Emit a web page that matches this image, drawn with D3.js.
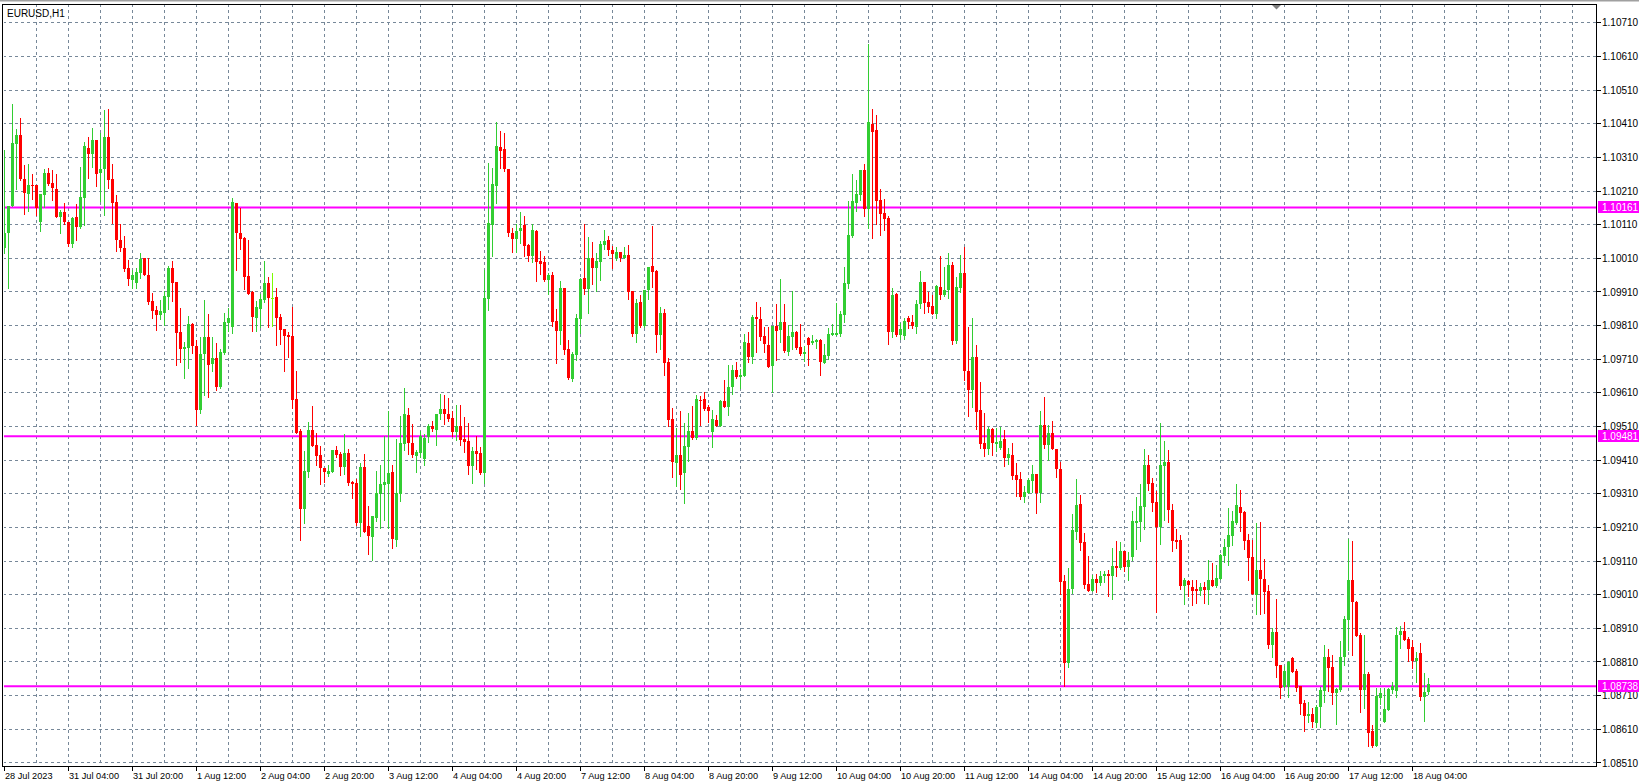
<!DOCTYPE html>
<html><head><meta charset="utf-8">
<script src="https://cdn.jsdelivr.net/npm/d3@7"></script>
<style>body{margin:0;background:#fff;}svg{display:block}</style>
</head><body>
<svg id="chart" width="1639" height="784"></svg>
<script>
const symbolTitle = "EURUSD,H1";
const timeLabels = ["28 Jul 2023","31 Jul 04:00","31 Jul 20:00","1 Aug 12:00","2 Aug 04:00","2 Aug 20:00","3 Aug 12:00","4 Aug 04:00","4 Aug 20:00","7 Aug 12:00","8 Aug 04:00","8 Aug 20:00","9 Aug 12:00","10 Aug 04:00","10 Aug 20:00","11 Aug 12:00","14 Aug 04:00","14 Aug 20:00","15 Aug 12:00","16 Aug 04:00","16 Aug 20:00","17 Aug 12:00","18 Aug 04:00"];
const priceTicks = [1.10710,1.10610,1.10510,1.10410,1.10310,1.10210,1.10110,1.10010,1.09910,1.09810,1.09710,1.09610,1.09510,1.09410,1.09310,1.09210,1.09110,1.09010,1.08910,1.08810,1.08710,1.08610,1.08510];
const levels = [1.10161, 1.09481, 1.08738];

const open = [1.10041,1.10086,1.10165,1.10349,1.10377,1.10246,1.10202,1.10229,1.10229,1.10117,
1.10197,1.10264,1.10235,1.10217,1.10134,1.10148,1.10119,1.10051,1.10132,1.10103,
1.10188,1.10339,1.10319,1.10362,1.10264,1.10274,1.10371,1.10246,1.10178,1.10065,
1.10041,1.09982,1.09944,1.09937,1.09967,1.10010,1.09961,1.09884,1.09855,1.09842,
1.09848,1.09896,1.09982,1.09940,1.09792,1.09739,1.09744,1.09815,1.09750,1.09558,
1.09724,1.09775,1.09695,1.09713,1.09626,1.09727,1.09817,1.09806,1.10173,1.10085,
1.10069,1.09956,1.09911,1.09832,1.09858,1.09885,1.09936,1.09893,1.09894,1.09834,
1.09799,1.09781,1.09778,1.09591,1.09496,1.09264,1.09374,1.09499,1.09454,1.09424,
1.09386,1.09368,1.09374,1.09439,1.09427,1.09389,1.09430,1.09344,1.09341,1.09224,
1.09389,1.09214,1.09181,1.09237,1.09308,1.09335,1.09338,1.09374,1.09172,1.09308,
1.09457,1.09543,1.09460,1.09421,1.09431,1.09413,1.09478,1.09512,1.09501,1.09546,
1.09561,1.09548,1.09534,1.09493,1.09512,1.09472,1.09468,1.09392,1.09438,1.09430,
1.09372,1.09889,1.10109,1.10225,1.10340,1.10334,1.10276,1.10084,1.10067,1.10090,
1.10108,1.10049,1.10016,1.10090,1.10001,1.09998,1.09945,1.09959,1.09823,1.09793,
1.09921,1.09739,1.09651,1.09723,1.09830,1.09950,1.09919,1.10010,1.09980,1.09998,
1.10049,1.10063,1.10034,1.10010,1.10028,1.10010,1.10019,1.09912,1.09784,1.09879,
1.09808,1.09915,1.09986,1.09972,1.09781,1.09847,1.09701,1.09532,1.09401,1.09425,
1.09371,1.09448,1.09496,1.09475,1.09588,1.09591,1.09567,1.09493,1.09529,1.09511,
1.09585,1.09567,1.09627,1.09677,1.09656,1.09659,1.09758,1.09716,1.09835,1.09829,
1.09778,1.09752,1.09689,1.09808,1.09796,1.09820,1.09731,1.09775,1.09790,1.09746,
1.09725,1.09772,1.09758,1.09761,1.09766,1.09698,1.09720,1.09781,1.09781,1.09784,
1.09841,1.09933,1.10075,1.10174,1.10197,1.10272,1.10156,1.10408,1.10391,1.10182,
1.10144,1.10129,1.09790,1.09903,1.09781,1.09778,1.09832,1.09820,1.09805,1.09873,
1.09939,1.09879,1.09867,1.09844,1.09924,1.09900,1.09915,1.09989,1.09763,1.09921,
1.09965,1.09675,1.09619,1.09716,1.09559,1.09461,1.09442,1.09502,1.09458,1.09446,
1.09473,1.09416,1.09425,1.09366,1.09354,1.09299,1.09312,1.09347,1.09368,1.09311,
1.09513,1.09454,1.09490,1.09442,1.09383,1.09050,1.08806,1.09026,1.09195,1.09279,
1.09166,1.09041,1.09020,1.09056,1.09044,1.09065,1.09073,1.09065,1.09094,1.09088,
1.09139,1.09091,1.09121,1.09222,1.09225,1.09270,1.09395,1.09341,1.09287,1.09210,
1.09392,1.09403,1.09262,1.09172,1.09172,1.09035,1.09050,1.09032,1.09026,1.09020,
1.09032,1.09023,1.09053,1.09035,1.09056,1.09124,1.09151,1.09183,1.09222,1.09272,
1.09257,1.09174,1.09123,1.09010,1.09082,1.09058,1.09022,1.08859,1.08900,1.08802,
1.08737,1.08737,1.08823,1.08784,1.08740,1.08689,1.08648,1.08654,1.08630,1.08677,
1.08725,1.08826,1.08796,1.08719,1.08728,1.08826,1.08936,1.09055,1.08987,1.08889,
1.08728,1.08773,1.08606,1.08559,1.08704,1.08633,1.08666,1.08728,1.08725,1.08889,
1.08903,1.08877,1.08856,1.08814,1.08838,1.08707,1.08722];

const high = [1.10331,1.10165,1.10469,1.10395,1.10428,1.10288,1.10291,1.10261,1.10229,1.10202,
1.10276,1.10279,1.10273,1.10261,1.10154,1.10174,1.10119,1.10134,1.10172,1.10282,
1.10356,1.10370,1.10398,1.10362,1.10383,1.10452,1.10455,1.10291,1.10197,1.10111,
1.10075,1.10004,1.09975,1.09981,1.10025,1.10012,1.10012,1.09907,1.09869,1.09887,
1.09912,1.09987,1.10001,1.09940,1.09863,1.09762,1.09839,1.09818,1.09766,1.09777,
1.09887,1.09843,1.09775,1.09757,1.09739,1.09846,1.09861,1.10188,1.10173,1.10159,
1.10072,1.10063,1.09914,1.09883,1.09903,1.10001,1.09953,1.09965,1.09921,1.09843,
1.09799,1.09792,1.09864,1.09674,1.09502,1.09436,1.09522,1.09570,1.09490,1.09451,
1.09388,1.09395,1.09439,1.09451,1.09433,1.09487,1.09442,1.09347,1.09353,1.09400,
1.09427,1.09273,1.09243,1.09377,1.09395,1.09481,1.09555,1.09395,1.09472,1.09540,
1.09623,1.09564,1.09516,1.09440,1.09498,1.09488,1.09517,1.09527,1.09548,1.09607,
1.09604,1.09594,1.09557,1.09575,1.09575,1.09537,1.09519,1.09450,1.09483,1.09450,
1.09976,1.10292,1.10278,1.10414,1.10387,1.10382,1.10276,1.10101,1.10111,1.10147,
1.10135,1.10051,1.10111,1.10093,1.10031,1.10016,1.09966,1.09968,1.09858,1.09942,
1.09921,1.09766,1.09730,1.09843,1.09950,1.10111,1.10072,1.10058,1.10025,1.10060,
1.10093,1.10075,1.10048,1.10043,1.10028,1.10043,1.10049,1.09912,1.09888,1.09900,
1.09915,1.09983,1.10105,1.09975,1.09865,1.09859,1.09713,1.09564,1.09505,1.09555,
1.09520,1.09549,1.09570,1.09603,1.09600,1.09612,1.09573,1.09558,1.09543,1.09588,
1.09648,1.09692,1.09692,1.09701,1.09680,1.09784,1.09790,1.09841,1.09879,1.09865,
1.09805,1.09805,1.09808,1.09873,1.09948,1.09873,1.09811,1.09912,1.09793,1.09814,
1.09749,1.09775,1.09781,1.09769,1.09769,1.09755,1.09802,1.09814,1.09876,1.09852,
1.09983,1.10180,1.10260,1.10242,1.10272,1.10290,1.10646,1.10453,1.10435,1.10215,
1.10185,1.10135,1.09921,1.09906,1.09817,1.09832,1.09838,1.09841,1.09885,1.09971,
1.09939,1.09909,1.09900,1.09930,1.10016,1.09983,1.10025,1.09998,1.09954,1.10019,
1.10043,1.09805,1.09832,1.09751,1.09642,1.09549,1.09508,1.09506,1.09506,1.09509,
1.09500,1.09445,1.09461,1.09402,1.09375,1.09333,1.09357,1.09397,1.09368,1.09555,
1.09597,1.09513,1.09525,1.09442,1.09403,1.09070,1.09088,1.09249,1.09353,1.09305,
1.09192,1.09124,1.09070,1.09073,1.09079,1.09079,1.09082,1.09148,1.09169,1.09166,
1.09139,1.09136,1.09258,1.09299,1.09338,1.09442,1.09424,1.09356,1.09317,1.09519,
1.09466,1.09439,1.09279,1.09204,1.09186,1.09059,1.09053,1.09053,1.09053,1.09044,
1.09047,1.09112,1.09103,1.09097,1.09130,1.09175,1.09267,1.09258,1.09338,1.09320,
1.09260,1.09189,1.09174,1.09224,1.09227,1.09117,1.09040,1.08912,1.08996,1.08802,
1.08799,1.08814,1.08826,1.08790,1.08740,1.08698,1.08692,1.08674,1.08683,1.08737,
1.08859,1.08850,1.08832,1.08734,1.08871,1.08948,1.09177,1.09171,1.08990,1.08897,
1.08889,1.08779,1.08624,1.08734,1.08734,1.08734,1.08734,1.08749,1.08915,1.08918,
1.08930,1.08883,1.08874,1.08841,1.08865,1.08776,1.08761];

const low = [1.10026,1.09922,1.10165,1.10215,1.10244,1.10142,1.10152,1.10185,1.10140,1.10090,
1.10163,1.10229,1.10184,1.10134,1.10084,1.10113,1.10047,1.10044,1.10063,1.10101,
1.10108,1.10250,1.10282,1.10224,1.10180,1.10140,1.10218,1.10116,1.10033,1.10033,
1.09971,1.09932,1.09922,1.09922,1.09952,1.09959,1.09875,1.09833,1.09798,1.09831,
1.09813,1.09858,1.09883,1.09694,1.09702,1.09653,1.09685,1.09729,1.09514,1.09551,
1.09603,1.09597,1.09675,1.09618,1.09623,1.09725,1.09794,1.09788,1.09975,1.10038,
1.09919,1.09903,1.09794,1.09794,1.09807,1.09879,1.09807,1.09810,1.09752,1.09755,
1.09675,1.09716,1.09564,1.09490,1.09172,1.09224,1.09359,1.09451,1.09397,1.09338,
1.09344,1.09362,1.09374,1.09418,1.09365,1.09368,1.09335,1.09296,1.09217,1.09184,
1.09196,1.09130,1.09113,1.09230,1.09209,1.09231,1.09209,1.09149,1.09155,1.09290,
1.09439,1.09427,1.09418,1.09374,1.09418,1.09396,1.09463,1.09496,1.09455,1.09532,
1.09517,1.09527,1.09483,1.09470,1.09455,1.09433,1.09369,1.09342,1.09384,1.09369,
1.09342,1.09856,1.10016,1.10174,1.10278,1.10269,1.10075,1.10028,1.10028,1.10055,
1.10018,1.10001,1.09998,1.09942,1.09962,1.09942,1.09904,1.09810,1.09699,1.09754,
1.09726,1.09651,1.09645,1.09708,1.09788,1.09904,1.09846,1.09934,1.09912,1.09946,
1.10038,1.10020,1.09980,1.10005,1.10002,1.10010,1.09888,1.09779,1.09761,1.09805,
1.09805,1.09888,1.09924,1.09731,1.09740,1.09662,1.09511,1.09359,1.09333,1.09324,
1.09283,1.09407,1.09472,1.09472,1.09514,1.09558,1.09523,1.09448,1.09511,1.09511,
1.09567,1.09543,1.09606,1.09653,1.09624,1.09659,1.09701,1.09698,1.09731,1.09766,
1.09731,1.09686,1.09612,1.09707,1.09761,1.09731,1.09722,1.09740,1.09740,1.09722,
1.09704,1.09692,1.09755,1.09743,1.09662,1.09698,1.09710,1.09781,1.09781,1.09778,
1.09820,1.09921,1.10072,1.10151,1.10182,1.10135,1.10099,1.10070,1.10111,1.10078,
1.10093,1.09754,1.09775,1.09778,1.09769,1.09769,1.09802,1.09802,1.09787,1.09861,
1.09847,1.09850,1.09844,1.09832,1.09888,1.09897,1.09891,1.09754,1.09757,1.09909,
1.09648,1.09541,1.09568,1.09503,1.09446,1.09422,1.09428,1.09425,1.09437,1.09443,
1.09393,1.09399,1.09354,1.09304,1.09293,1.09286,1.09312,1.09314,1.09252,1.09287,
1.09445,1.09409,1.09442,1.09359,1.09011,1.08740,1.08794,1.09014,1.09177,1.09142,
1.09029,1.09020,1.09020,1.09017,1.09038,1.09047,1.09005,1.08996,1.09065,1.09085,
1.09079,1.09053,1.09112,1.09145,1.09169,1.09204,1.09320,1.09258,1.08960,1.09160,
1.09231,1.09225,1.09139,1.09148,1.09026,1.08981,1.09005,1.08978,1.08984,1.09008,
1.08984,1.08981,1.09035,1.09032,1.09056,1.09106,1.09097,1.09157,1.09219,1.09198,
1.09147,1.09055,1.09013,1.08954,1.08954,1.08957,1.08853,1.08826,1.08764,1.08704,
1.08737,1.08707,1.08781,1.08725,1.08654,1.08606,1.08633,1.08618,1.08618,1.08618,
1.08692,1.08725,1.08686,1.08627,1.08725,1.08802,1.08847,1.08832,1.08886,1.08660,
1.08674,1.08561,1.08556,1.08559,1.08686,1.08633,1.08666,1.08719,1.08707,1.08853,
1.08874,1.08814,1.08793,1.08749,1.08698,1.08636,1.08716];

const close = [1.10086,1.10165,1.10353,1.10377,1.10246,1.10205,1.10229,1.10227,1.10158,1.10200,
1.10264,1.10232,1.10218,1.10134,1.10148,1.10117,1.10051,1.10131,1.10103,1.10193,
1.10345,1.10319,1.10362,1.10262,1.10276,1.10371,1.10244,1.10175,1.10063,1.10041,
1.09979,1.09947,1.09961,1.09969,1.10007,1.09959,1.09881,1.09852,1.09842,1.09852,
1.09899,1.09982,1.09937,1.09789,1.09739,1.09747,1.09815,1.09748,1.09558,1.09724,
1.09777,1.09693,1.09713,1.09626,1.09730,1.09820,1.09832,1.10176,1.10085,1.10067,
1.09953,1.09905,1.09834,1.09864,1.09888,1.09936,1.09891,1.09893,1.09832,1.09797,
1.09778,1.09775,1.09588,1.09490,1.09264,1.09377,1.09499,1.09451,1.09421,1.09386,
1.09374,1.09377,1.09439,1.09424,1.09389,1.09430,1.09341,1.09338,1.09222,1.09389,
1.09197,1.09184,1.09243,1.09311,1.09338,1.09344,1.09371,1.09175,1.09311,1.09460,
1.09546,1.09460,1.09424,1.09433,1.09483,1.09475,1.09512,1.09503,1.09548,1.09561,
1.09547,1.09532,1.09493,1.09512,1.09470,1.09463,1.09392,1.09438,1.09428,1.09372,
1.09891,1.10114,1.10230,1.10343,1.10328,1.10274,1.10085,1.10067,1.10090,1.10099,
1.10046,1.10016,1.10093,1.09998,1.09992,1.09945,1.09959,1.09820,1.09793,1.09921,
1.09737,1.09653,1.09725,1.09832,1.09948,1.09919,1.10010,1.09980,1.10001,1.10052,
1.10060,1.10034,1.10022,1.10028,1.10010,1.10020,1.09909,1.09784,1.09876,1.09808,
1.09915,1.09983,1.09969,1.09781,1.09847,1.09698,1.09529,1.09404,1.09425,1.09366,
1.09451,1.09496,1.09477,1.09591,1.09585,1.09561,1.09555,1.09532,1.09511,1.09585,
1.09567,1.09627,1.09677,1.09656,1.09662,1.09761,1.09716,1.09835,1.09829,1.09775,
1.09755,1.09688,1.09808,1.09793,1.09820,1.09734,1.09778,1.09790,1.09743,1.09725,
1.09731,1.09752,1.09763,1.09766,1.09701,1.09722,1.09784,1.09787,1.09787,1.09844,
1.09936,1.10078,1.10180,1.10200,1.10272,1.10156,1.10414,1.10385,1.10180,1.10141,
1.10126,1.09790,1.09900,1.09781,1.09799,1.09823,1.09820,1.09808,1.09873,1.09939,
1.09876,1.09864,1.09844,1.09927,1.09900,1.09915,1.09989,1.09763,1.09924,1.09965,
1.09675,1.09619,1.09716,1.09553,1.09458,1.09442,1.09502,1.09461,1.09464,1.09467,
1.09416,1.09428,1.09363,1.09351,1.09299,1.09315,1.09351,1.09368,1.09311,1.09513,
1.09454,1.09490,1.09442,1.09383,1.09047,1.08806,1.09026,1.09201,1.09276,1.09163,
1.09038,1.09020,1.09056,1.09044,1.09067,1.09073,1.09065,1.09094,1.09088,1.09139,
1.09091,1.09112,1.09228,1.09228,1.09273,1.09395,1.09338,1.09282,1.09210,1.09395,
1.09403,1.09262,1.09169,1.09166,1.09035,1.09053,1.09038,1.09020,1.09020,1.09032,
1.09023,1.09053,1.09035,1.09059,1.09127,1.09151,1.09186,1.09228,1.09276,1.09254,
1.09171,1.09120,1.09013,1.09082,1.09058,1.09019,1.08859,1.08900,1.08799,1.08734,
1.08784,1.08810,1.08781,1.08734,1.08686,1.08648,1.08654,1.08633,1.08677,1.08728,
1.08826,1.08793,1.08719,1.08731,1.08826,1.08939,1.09055,1.08987,1.08886,1.08728,
1.08773,1.08600,1.08559,1.08710,1.08719,1.08671,1.08731,1.08740,1.08889,1.08903,
1.08874,1.08850,1.08814,1.08823,1.08707,1.08722,1.08746];

const bars = open.map((o, i) => ({i, o, h: high[i], l: low[i], c: close[i]}));

const W = 1639, H = 784;
const P = {left: 3, top: 4, right: 1596, bottom: 766};
const x = d3.scaleLinear().domain([-1, 398]).range([0.3, 1596.3]);
const y = d3.scaleLinear().domain([1.08510, 1.10710]).range([762.9, 22.8]);

const svg = d3.select("#chart");
const font = "'Liberation Sans', Arial, sans-serif";
svg.append("rect").attr("width", W).attr("height", H).attr("fill", "#fff");
svg.append("rect").attr("x", 0).attr("y", 0).attr("width", W).attr("height", 1.5).attr("fill", "#a0a0a0");

const defs = svg.append("defs");
defs.append("clipPath").attr("id", "plotClip").append("rect")
  .attr("x", P.left + 1).attr("y", P.top + 1)
  .attr("width", P.right - P.left - 1).attr("height", P.bottom - P.top - 1);

const plot = svg.append("g").attr("clip-path", "url(#plotClip)");
const gridColor = "#778899";

// horizontal grid
plot.append("g").selectAll("line").data(priceTicks).join("line")
  .attr("x1", P.left).attr("x2", P.right)
  .attr("y1", d => Math.floor(y(d)) + 0.5).attr("y2", d => Math.floor(y(d)) + 0.5)
  .attr("stroke", gridColor).attr("stroke-width", 1).attr("stroke-dasharray", "3,3");

// vertical grid every 8 bars
const vGrid = d3.range(8, 398, 8);
plot.append("g").selectAll("line").data(vGrid).join("line")
  .attr("x1", d => Math.floor(x(d)) + 0.5).attr("x2", d => Math.floor(x(d)) + 0.5)
  .attr("y1", P.top).attr("y2", P.bottom)
  .attr("stroke", gridColor).attr("stroke-width", 1).attr("stroke-dasharray", "3,3");

// horizontal level lines
plot.append("g").selectAll("line").data(levels).join("line")
  .attr("x1", P.left).attr("x2", P.right)
  .attr("y1", d => y(d)).attr("y2", d => y(d))
  .attr("stroke", "#ff00ff").attr("stroke-width", 2);

// candles
const bull = "#32cd32", bear = "#ff0000", doji = "#7cfc00";
const col = d => d.c > d.o ? bull : (d.c < d.o ? bear : doji);
const cg = plot.append("g");
cg.selectAll("rect.wick").data(bars).join("rect").attr("class", "wick")
  .attr("x", d => Math.floor(x(d.i)))
  .attr("width", 1)
  .attr("y", d => Math.round(y(d.h)))
  .attr("height", d => Math.max(1, Math.round(y(d.l)) - Math.round(y(d.h)) + 1))
  .attr("fill", col);
cg.selectAll("rect.body").data(bars).join("rect").attr("class", "body")
  .attr("x", d => Math.floor(x(d.i)) - 1)
  .attr("width", 3)
  .attr("y", d => Math.round(y(Math.max(d.o, d.c))))
  .attr("height", d => Math.max(1, Math.round(y(Math.min(d.o, d.c))) - Math.round(y(Math.max(d.o, d.c)))))
  .attr("fill", col);

// frame
svg.append("rect").attr("x", P.left - 0.5).attr("y", P.top + 0.5)
  .attr("width", P.right - P.left + 1).attr("height", P.bottom - P.top)
  .attr("fill", "none").attr("stroke", "#000").attr("stroke-width", 1);

// chart shift marker
svg.append("path").attr("d", d3.line()([[1272, 5], [1281, 5], [1276.5, 9.5]]) + "Z").attr("fill", "#808080");

// title
svg.append("text").attr("x", 7).attr("y", 16.5).text(symbolTitle)
  .attr("font-family", font).attr("font-size", 10).attr("fill", "#000");

// price axis
const pa = svg.append("g");
pa.selectAll("line").data(priceTicks).join("line")
  .attr("x1", P.right + 1).attr("x2", P.right + 5)
  .attr("y1", d => Math.floor(y(d)) + 0.5).attr("y2", d => Math.floor(y(d)) + 0.5)
  .attr("stroke", "#000");
pa.selectAll("text").data(priceTicks).join("text")
  .attr("x", P.right + 6).attr("y", d => y(d) + 3.6)
  .text(d => d.toFixed(5))
  .attr("font-family", font).attr("font-size", 10).attr("fill", "#000");

// level labels
const lg = svg.append("g").selectAll("g").data(levels).join("g");
lg.append("rect").attr("x", P.right + 2).attr("y", d => Math.round(y(d)) - 6)
  .attr("width", W - P.right - 2).attr("height", 12).attr("fill", "#ff00ff");
lg.append("text").attr("x", P.right + 6).attr("y", d => Math.round(y(d)) + 3.6)
  .text(d => d.toFixed(5))
  .attr("font-family", font).attr("font-size", 10).attr("fill", "#fff");

// time axis
const ta = svg.append("g");
const tIdx = timeLabels.map((t, m) => ({t, i: m * 16}));
ta.selectAll("line").data(tIdx).join("line")
  .attr("x1", d => Math.floor(x(d.i)) + 0.5).attr("x2", d => Math.floor(x(d.i)) + 0.5)
  .attr("y1", P.bottom + 1).attr("y2", P.bottom + 5).attr("stroke", "#000");
ta.selectAll("text").data(tIdx).join("text")
  .attr("x", d => Math.floor(x(d.i)) + 1).attr("y", 779)
  .text(d => d.t)
  .attr("font-family", font).attr("font-size", 9.2).attr("fill", "#000");
</script>
</body></html>
